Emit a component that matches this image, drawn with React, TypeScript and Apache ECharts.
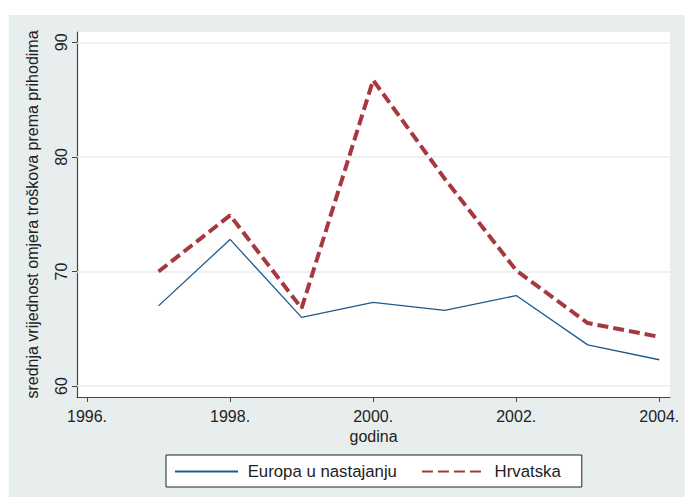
import React, { useEffect, useRef } from "react";
import * as echarts from "echarts";

const years = [1997, 1998, 1999, 2000, 2001, 2002, 2003, 2004];
const europa = [67.0, 72.8, 66.0, 67.3, 66.6, 67.9, 63.6, 62.3];
const hrvatska = [70.0, 74.9, 66.8, 86.7, 78.1, 70.1, 65.5, 64.3];
const xTicks = [1996, 1998, 2000, 2002, 2004];
const yTicks = [60, 70, 80, 90];
const seriesNames = ["Europa u nastajanju", "Hrvatska"];

const FONT = "Liberation Sans, Arial, sans-serif";

export default function App() {
  const ref = useRef<HTMLDivElement>(null);
  useEffect(() => {
    document.body.style.margin = "0";
    const chart = echarts.init(ref.current!, undefined, { renderer: "svg" });
    chart.setOption({
      animation: false,
      backgroundColor: "transparent",
      textStyle: { fontFamily: FONT },
      grid: {
        left: 68,
        right: 15,
        top: 17,
        bottom: 100,
        show: true,
        backgroundColor: "#ffffff",
        borderWidth: 0,
      },
      legend: {
        left: 157,
        top: 440,
        orient: "horizontal",
        backgroundColor: "#ffffff",
        borderColor: "#222",
        borderWidth: 1,
        borderRadius: 0,
        padding: [8, 21, 7, 8],
        itemWidth: 63,
        itemHeight: 10,
        itemGap: 24,
        itemStyle: { opacity: 0 },
        formatter: (n: string) => " " + n,
        textStyle: { fontSize: 16.8, color: "#222", fontFamily: FONT },
        data: seriesNames,
      },
      xAxis: {
        type: "value",
        min: 1995.86,
        max: 2004.15,
        name: "godina",
        nameLocation: "middle",
        nameGap: 30,
        nameTextStyle: { fontSize: 16, color: "#222", fontFamily: FONT },
        axisLine: { show: true, lineStyle: { color: "#444", width: 1.2 } },
        axisTick: { show: true, length: 5, customValues: xTicks, lineStyle: { color: "#444" } },
        axisLabel: {
          customValues: xTicks,
          formatter: (v: number) => v + ".",
          fontSize: 16,
          color: "#222",
          margin: 11,
          fontFamily: FONT,
        },
        splitLine: { show: false },
      },
      yAxis: {
        type: "value",
        min: 59.05,
        max: 90.9,
        name: "srednja vrijednost omjera troškova prema prihodima",
        nameLocation: "middle",
        nameGap: 37,
        nameTextStyle: { fontSize: 16, color: "#222", fontFamily: FONT },
        axisLine: { show: true, lineStyle: { color: "#444", width: 1.2 } },
        axisTick: { show: true, length: 5, customValues: yTicks, lineStyle: { color: "#444" } },
        axisLabel: {
          customValues: yTicks,
          rotate: 90,
          fontSize: 16,
          color: "#222",
          margin: 8,
          fontFamily: FONT,
        },
        splitLine: { show: false },
      },
      series: [
        {
          name: seriesNames[0],
          type: "line",
          data: years.map((y, i) => [y, europa[i]]),
          symbol: "none",
          lineStyle: { color: "#1f5a8c", width: 1.3 },
          itemStyle: { color: "#1f5a8c" },
          z: 3,
          markLine: {
            silent: true,
            symbol: "none",
            label: { show: false },
            lineStyle: { color: "#e6eeef", width: 1.5, type: "solid" },
            data: yTicks.map((t) => ({ yAxis: t })),
            z: 1,
          },
        },
        {
          name: seriesNames[1],
          type: "line",
          data: years.map((y, i) => [y, hrvatska[i]]),
          symbol: "none",
          lineStyle: { color: "#a8383f", width: 4, type: [11, 5] },
          itemStyle: { color: "#a8383f" },
          z: 4,
        },
      ],
    });
    return () => chart.dispose();
  }, []);
  return (
    <div style={{ position: "absolute", left: 0, top: 0, width: 685, height: 497, background: "#ffffff" }}>
      <div style={{ position: "absolute", left: 9, top: 15, width: 676, height: 482, background: "#e8eeee" }}>
        <div ref={ref} style={{ width: 676, height: 482 }} />
      </div>
    </div>
  );
}
